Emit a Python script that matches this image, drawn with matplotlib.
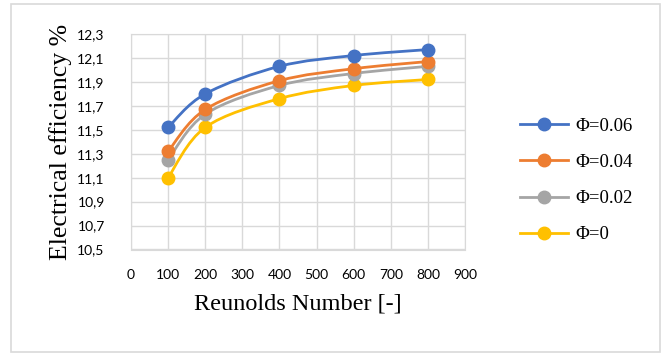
import matplotlib
matplotlib.use("Agg")
import matplotlib.pyplot as plt
from matplotlib.path import Path
from matplotlib.patches import PathPatch, Rectangle
from matplotlib.lines import Line2D

reynolds = [100, 200, 400, 600, 800]
phi_006 = [11.52, 11.80, 12.03, 12.12, 12.17]
phi_004 = [11.32, 11.67, 11.91, 12.01, 12.07]
phi_002 = [11.25, 11.63, 11.87, 11.97, 12.03]
phi_000 = [11.10, 11.52, 11.76, 11.87, 11.92]
labels = ["Φ=0.06", "Φ=0.04", "Φ=0.02", "Φ=0"]
colors = ["#4472C4", "#ED7D31", "#A5A5A5", "#FFC000"]
xticks = [0, 100, 200, 300, 400, 500, 600, 700, 800, 900]
yticks = [10.5, 10.7, 10.9, 11.1, 11.3, 11.5, 11.7, 11.9, 12.1, 12.3]

fig = plt.figure(figsize=(6.64, 3.56), dpi=100)
W, H = 664, 356
# outer chart border
fig.patches.append(Rectangle((11 / W, 4 / H), 649 / W, 348 / H, transform=fig.transFigure,
                             facecolor="none", edgecolor="#d9d9d9", linewidth=1.2, zorder=-1))

ax = fig.add_axes([131 / W, 1 - 249.5 / H, 334 / W, 215.5 / H])
ax.set_xlim(0, 900)
ax.set_ylim(10.5, 12.3)
ax.set_xticks(xticks)
ax.set_yticks(yticks)
ax.set_xticklabels([str(t) for t in xticks], fontfamily="Lato", fontsize=10)
ax.set_yticklabels([f"{t:.1f}".replace(".", ",") for t in yticks], fontfamily="Lato", fontsize=10)
ax.grid(True, color="#d9d9d9", linewidth=1)
ax.set_axisbelow(True)
for s in ax.spines.values():
    s.set_color("#d9d9d9")
ax.tick_params(length=0)
ax.tick_params(axis="x", pad=14)
ax.tick_params(axis="y", pad=19)


def smooth_path(xs, ys):
    pts = list(zip(xs, ys))
    n = len(pts)
    verts = [pts[0]]
    codes = [Path.MOVETO]
    for i in range(n - 1):
        p0 = pts[i - 1] if i > 0 else pts[i]
        p1 = pts[i]
        p2 = pts[i + 1]
        p3 = pts[i + 2] if i + 2 < n else pts[i + 1]
        c1 = (p1[0] + (p2[0] - p0[0]) / 6, p1[1] + (p2[1] - p0[1]) / 6)
        c2 = (p2[0] - (p3[0] - p1[0]) / 6, p2[1] - (p3[1] - p1[1]) / 6)
        verts += [c1, c2, p2]
        codes += [Path.CURVE4] * 3
    return Path(verts, codes)


series = [phi_006, phi_004, phi_002, phi_000]
handles = []
for ys, c, lab, z in zip(series, colors, labels, [5, 4, 3, 2]):
    ax.add_patch(PathPatch(smooth_path(reynolds, ys), facecolor="none",
                           edgecolor=c, linewidth=2, zorder=z))
    ax.plot(reynolds, ys, linestyle="none", marker="o", markersize=9,
            color=c, zorder=z + 0.5, clip_on=False)
    handles.append(Line2D([], [], color=c, linewidth=2, marker="o", markersize=9))

ax.set_xlabel("Reunolds Number [-]", fontfamily="Liberation Serif", fontsize=17.5, labelpad=9)
ax.set_ylabel("Electrical efficiency %", fontfamily="Liberation Serif", fontsize=18.5, labelpad=4)

fig.legend(handles, labels, loc="upper left", bbox_to_anchor=(512 / W, 1 - 110 / H),
           frameon=False, prop={"family": "Liberation Serif", "size": 13.5},
           handlelength=2.6, labelspacing=1.02, handletextpad=0.4, borderaxespad=0)

fig.savefig("out.png", dpi=100)
